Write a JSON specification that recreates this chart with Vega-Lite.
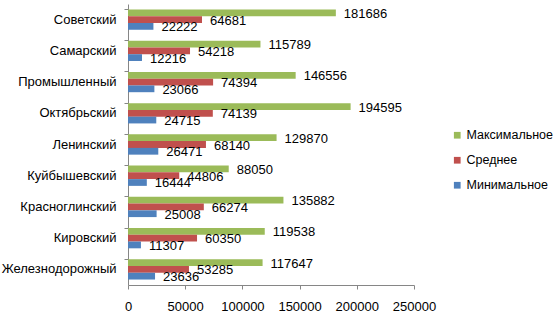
{
  "$schema": "https://vega.github.io/schema/vega-lite/v6.json",
  "autosize": {"type": "none"},
  "padding": {"left": 128, "top": 4, "right": 143, "bottom": 34},
  "width": 286,
  "height": 281,
  "background": "white",
  "config": {
    "font": "Liberation Sans",
    "view": {"stroke": null},
    "axis": {"grid": false, "domainColor": "#868686", "tickColor": "#868686", "labelColor": "#000000", "labelFont": "Liberation Sans", "labelFontSize": 13}
  },
  "data": {
    "values": [
      {"district": "Советский", "series": "Максимальное", "value": 181686},
      {"district": "Советский", "series": "Среднее", "value": 64681},
      {"district": "Советский", "series": "Минимальное", "value": 22222},
      {"district": "Самарский", "series": "Максимальное", "value": 115789},
      {"district": "Самарский", "series": "Среднее", "value": 54218},
      {"district": "Самарский", "series": "Минимальное", "value": 12216},
      {"district": "Промышленный", "series": "Максимальное", "value": 146556},
      {"district": "Промышленный", "series": "Среднее", "value": 74394},
      {"district": "Промышленный", "series": "Минимальное", "value": 23066},
      {"district": "Октябрьский", "series": "Максимальное", "value": 194595},
      {"district": "Октябрьский", "series": "Среднее", "value": 74139},
      {"district": "Октябрьский", "series": "Минимальное", "value": 24715},
      {"district": "Ленинский", "series": "Максимальное", "value": 129870},
      {"district": "Ленинский", "series": "Среднее", "value": 68140},
      {"district": "Ленинский", "series": "Минимальное", "value": 26471},
      {"district": "Куйбышевский", "series": "Максимальное", "value": 88050},
      {"district": "Куйбышевский", "series": "Среднее", "value": 44806},
      {"district": "Куйбышевский", "series": "Минимальное", "value": 16444},
      {"district": "Красноглинский", "series": "Максимальное", "value": 135882},
      {"district": "Красноглинский", "series": "Среднее", "value": 66274},
      {"district": "Красноглинский", "series": "Минимальное", "value": 25008},
      {"district": "Кировский", "series": "Максимальное", "value": 119538},
      {"district": "Кировский", "series": "Среднее", "value": 60350},
      {"district": "Кировский", "series": "Минимальное", "value": 11307},
      {"district": "Железнодорожный", "series": "Максимальное", "value": 117647},
      {"district": "Железнодорожный", "series": "Среднее", "value": 53285},
      {"district": "Железнодорожный", "series": "Минимальное", "value": 23636}
    ]
  },
  "encoding": {
    "y": {
      "field": "district", "type": "nominal", "title": null,
      "sort": ["Советский", "Самарский", "Промышленный", "Октябрьский", "Ленинский", "Куйбышевский", "Красноглинский", "Кировский", "Железнодорожный"],
      "scale": {"paddingInner": 0.35, "paddingOuter": 0.175},
      "axis": {"bandPosition": 0, "tickSize": 4, "labelPadding": 8, "labelLimit": 0}
    },
    "yOffset": {
      "field": "series", "type": "nominal",
      "scale": {"domain": ["Максимальное", "Среднее", "Минимальное"], "paddingInner": 0, "paddingOuter": 0}
    },
    "x": {
      "field": "value", "type": "quantitative", "title": null,
      "scale": {"domain": [0, 250000], "nice": false},
      "axis": {"values": [0, 50000, 100000, 150000, 200000, 250000], "format": "d", "tickSize": 4, "labelPadding": 11, "labelFlush": false}
    }
  },
  "layer": [
    {
      "mark": {"type": "bar"},
      "encoding": {
        "color": {
          "field": "series", "type": "nominal",
          "scale": {"domain": ["Максимальное", "Среднее", "Минимальное"], "range": ["#9BBB59", "#C0504D", "#4F81BD"]},
          "legend": {
            "title": null, "orient": "none", "legendX": 323, "legendY": 125,
            "symbolType": "square", "symbolSize": 45, "symbolStrokeWidth": 0,
            "labelFontSize": 12.5, "labelFont": "Liberation Sans", "labelColor": "#000000",
            "rowPadding": 12, "labelOffset": 3
          }
        }
      }
    },
    {
      "mark": {"type": "text", "align": "left", "baseline": "middle", "dx": 8, "dy": 1, "fontSize": 13, "color": "#000000"},
      "encoding": {"text": {"field": "value", "type": "quantitative", "format": "d"}}
    }
  ]
}
